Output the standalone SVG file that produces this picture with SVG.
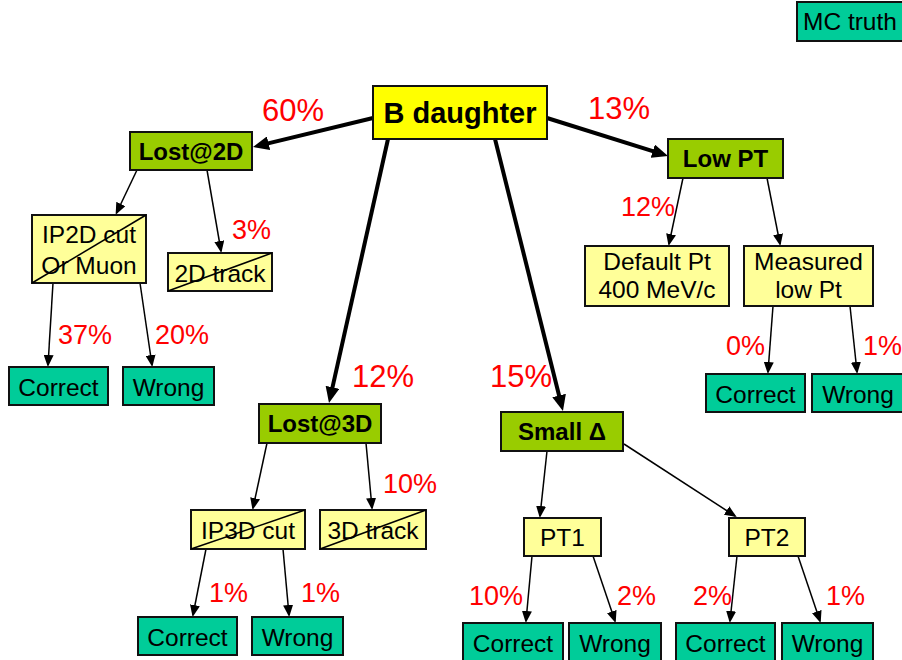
<svg xmlns="http://www.w3.org/2000/svg" width="902" height="660" viewBox="0 0 902 660">
<style>
text{font-family:"Liberation Sans",Arial,sans-serif;}
.box{stroke:#111;stroke-width:2;}
.root{fill:#FFFF00;}
.grn{fill:#99CC00;}
.yel{fill:#FFFF99;}
.teal{fill:#00CC99;}
.t{font-size:24.5px;fill:#000;text-anchor:middle;}
.b{font-size:24px;font-weight:bold;fill:#000;text-anchor:middle;}
.pct{font-size:27px;fill:#FF0000;}
.pctL{font-size:31px;fill:#FF0000;}
.thick{stroke:#000;stroke-width:4;fill:none;marker-end:url(#ah);}
.thin{stroke:#000;stroke-width:1.5;fill:none;marker-end:url(#as);}
.strike{stroke:#000;stroke-width:1.5;}
</style>
<defs>
<marker id="ah" markerUnits="userSpaceOnUse" markerWidth="16" markerHeight="14" refX="10" refY="7" orient="auto"><path d="M0,0 L16,7 L0,14 z" fill="#000"/></marker>
<marker id="as" markerUnits="userSpaceOnUse" markerWidth="12" markerHeight="10" refX="10" refY="5" orient="auto"><path d="M0,0 L12,5 L0,10 z" fill="#000"/></marker>
</defs>
<rect width="902" height="660" fill="#fff"/>

<g id="connectors">
<line class="thick" x1="373" y1="118" x2="258.8" y2="145.6"/>
<line class="thick" x1="547" y1="118" x2="662.3" y2="154.2"/>
<line class="thick" x1="388" y1="139" x2="330.3" y2="397.1"/>
<line class="thick" x1="495" y1="139" x2="561.5" y2="405.2"/>
<line class="thin" x1="137" y1="170" x2="116.5" y2="213"/>
<line class="thin" x1="207" y1="170" x2="221" y2="251"/>
<line class="thin" x1="683" y1="178" x2="669" y2="244"/>
<line class="thin" x1="767" y1="178" x2="780" y2="244"/>
<line class="thin" x1="53" y1="283" x2="48" y2="365"/>
<line class="thin" x1="140" y1="283" x2="152" y2="365"/>
<line class="thin" x1="267" y1="443" x2="253" y2="508"/>
<line class="thin" x1="366" y1="443" x2="372" y2="508"/>
<line class="thin" x1="206" y1="549" x2="193" y2="615"/>
<line class="thin" x1="283" y1="549" x2="289" y2="615"/>
<line class="thin" x1="773" y1="306" x2="768" y2="372"/>
<line class="thin" x1="850" y1="306" x2="857" y2="372"/>
<line class="thin" x1="547" y1="451" x2="540" y2="516"/>
<line class="thin" x1="624" y1="444" x2="735" y2="516"/>
<line class="thin" x1="532" y1="556" x2="526" y2="621"/>
<line class="thin" x1="593" y1="556" x2="615" y2="621"/>
<line class="thin" x1="737" y1="556" x2="730" y2="621"/>
<line class="thin" x1="798" y1="556" x2="820" y2="621"/>
</g>

<g id="labels">
<text class="pctL" x="262" y="121">60%</text>
<text class="pctL" x="588" y="119">13%</text>
<text class="pct" x="232" y="239">3%</text>
<text class="pct" x="621" y="216">12%</text>
<text class="pct" x="58" y="344">37%</text>
<text class="pct" x="155" y="344">20%</text>
<text class="pctL" x="352" y="387">12%</text>
<text class="pctL" x="490" y="387">15%</text>
<text class="pct" x="726" y="355">0%</text>
<text class="pct" x="863" y="355">1%</text>
<text class="pct" x="383" y="493">10%</text>
<text class="pct" x="209" y="602">1%</text>
<text class="pct" x="301" y="602">1%</text>
<text class="pct" x="469" y="605">10%</text>
<text class="pct" x="617" y="605">2%</text>
<text class="pct" x="693" y="605">2%</text>
<text class="pct" x="826" y="605">1%</text>
</g>

<g id="mc-truth"><rect class="box teal" x="797" y="2" width="110" height="39"/><text class="t" x="803" y="30" style="text-anchor:start">MC truth</text></g>

<g id="b-daughter"><rect class="box root" x="373" y="86" width="174" height="53"/><text class="b" x="460" y="123" style="font-size:29px">B daughter</text></g>

<g id="lost2d"><rect class="box grn" x="130" y="132" width="122" height="38"/><text class="b" x="191" y="160">Lost@2D</text></g>
<g id="lowpt"><rect class="box grn" x="668" y="139" width="115" height="39"/><text class="b" x="725.5" y="167">Low PT</text></g>
<g id="lost3d"><rect class="box grn" x="259" y="404" width="122" height="39"/><text class="b" x="320" y="432">Lost@3D</text></g>
<g id="smalld"><rect class="box grn" x="501" y="412" width="122" height="39"/><text class="b" x="562" y="440">Small Δ</text></g>

<g id="ip2d"><rect class="box yel" x="32" y="215" width="114" height="68"/><text class="t" x="89" y="243">IP2D cut</text><text class="t" x="89" y="274">Or Muon</text><line class="strike" x1="32" y1="283" x2="146" y2="215"/></g>
<g id="track2d"><rect class="box yel" x="168" y="253" width="104" height="38"/><text class="t" x="220" y="282">2D track</text><line class="strike" x1="168" y1="291" x2="272" y2="253"/></g>
<g id="defaultpt"><rect class="box yel" x="585" y="246" width="144" height="60"/><text class="t" x="657" y="270">Default Pt</text><text class="t" x="657" y="298">400 MeV/c</text></g>
<g id="measured"><rect class="box yel" x="744" y="246" width="129" height="60"/><text class="t" x="808.5" y="270">Measured</text><text class="t" x="808.5" y="298">low Pt</text></g>
<g id="ip3d"><rect class="box yel" x="191" y="510" width="114" height="39"/><text class="t" x="248" y="539">IP3D cut</text><line class="strike" x1="191" y1="549" x2="305" y2="510"/></g>
<g id="track3d"><rect class="box yel" x="320" y="510" width="106" height="39"/><text class="t" x="373" y="539">3D track</text><line class="strike" x1="320" y1="549" x2="426" y2="510"/></g>
<g id="pt1"><rect class="box yel" x="524" y="518" width="77" height="38"/><text class="t" x="562.5" y="546">PT1</text></g>
<g id="pt2"><rect class="box yel" x="729" y="518" width="76" height="38"/><text class="t" x="767" y="546">PT2</text></g>

<g id="correct-2d"><rect class="box teal" x="9" y="367" width="99" height="38"/><text class="t" x="58.5" y="396">Correct</text></g>
<g id="wrong-2d"><rect class="box teal" x="123" y="367" width="91" height="38"/><text class="t" x="168.5" y="396">Wrong</text></g>
<g id="correct-lowpt"><rect class="box teal" x="706" y="374" width="99" height="38"/><text class="t" x="755.5" y="403">Correct</text></g>
<g id="wrong-lowpt"><rect class="box teal" x="812" y="374" width="95" height="38"/><text class="t" x="858" y="403">Wrong</text></g>
<g id="correct-3d"><rect class="box teal" x="138" y="617" width="99" height="38"/><text class="t" x="187.5" y="646">Correct</text></g>
<g id="wrong-3d"><rect class="box teal" x="252" y="617" width="91" height="38"/><text class="t" x="297.5" y="646">Wrong</text></g>
<g id="correct-pt1"><rect class="box teal" x="463" y="623" width="100" height="40"/><text class="t" x="513" y="652">Correct</text></g>
<g id="wrong-pt1"><rect class="box teal" x="569" y="623" width="92" height="40"/><text class="t" x="615" y="652">Wrong</text></g>
<g id="correct-pt2"><rect class="box teal" x="676" y="623" width="99" height="40"/><text class="t" x="725.5" y="652">Correct</text></g>
<g id="wrong-pt2"><rect class="box teal" x="782" y="623" width="91" height="40"/><text class="t" x="827.5" y="652">Wrong</text></g>
</svg>
